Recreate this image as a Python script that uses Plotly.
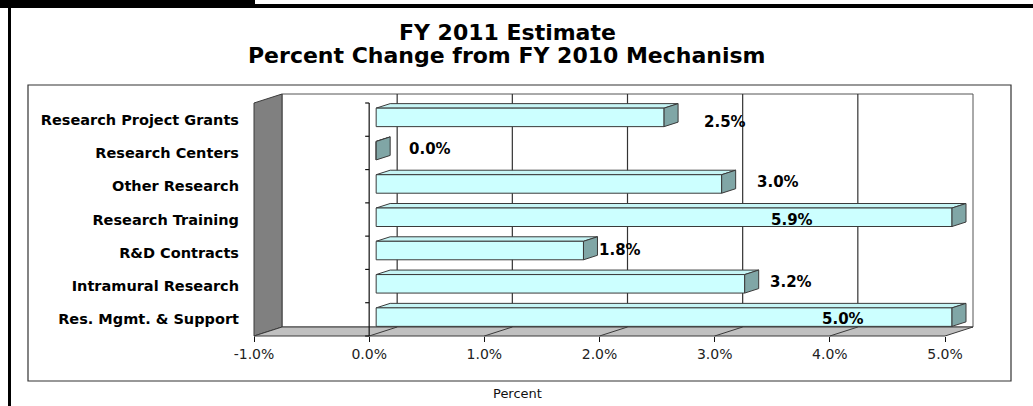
import plotly.graph_objects as go

# ---------------- data ----------------
categories = ["Research Project Grants", "Research Centers", "Other Research",
              "Research Training", "R&D Contracts", "Intramural Research",
              "Res. Mgmt. & Support"]
pct_change = [2.5, 0.0, 3.0, 5.9, 1.8, 3.2, 5.0]
x_tick_values = [-1, 0, 1, 2, 3, 4, 5]
x_tick_labels = ["-1.0%", "0.0%", "1.0%", "2.0%", "3.0%", "4.0%", "5.0%"]
title_lines = ["FY 2011 Estimate", "Percent Change from FY 2010 Mechanism"]
x_title = "Percent"

# ---------------- layout geometry (pixels) ----------------
W, H = 1033, 406
X_MIN, X_MAX = -1, 5
PX_LEFT, PX_RIGHT = 254, 945      # front plane of the 3-D box
PY_TOP, PY_BOT = 103, 336
n = len(categories)
S = (PX_RIGHT - PX_LEFT) / (X_MAX - X_MIN)   # px per percent
P = (PY_BOT - PY_TOP) / n                    # px per category
DX = 28 / S          # depth offset in x data units
DY = -9 / P          # depth offset in y index units (up)
BAR_H = 18.5 / P     # bar thickness in index units
D0, D1 = 0.25, 0.75  # bar depth span

FONT = "DejaVu Sans, Liberation Sans, Arial"
EDGE = "#3a3a3a"


def pt(v, i, d):
    return v + d * DX, i + d * DY


def poly(corners, fill, line=EDGE, width=1):
    xs = [c[0] for c in corners] + [corners[0][0]]
    ys = [c[1] for c in corners] + [corners[0][1]]
    return go.Scatter(x=xs, y=ys, mode="lines", fill="toself", fillcolor=fill,
                      line=dict(color=line, width=width), hoverinfo="skip",
                      showlegend=False, xaxis="x2", yaxis="y2")


def seg(p1, p2, color=EDGE, width=1):
    return go.Scatter(x=[p1[0], p2[0]], y=[p1[1], p2[1]], mode="lines",
                      line=dict(color=color, width=width), hoverinfo="skip",
                      showlegend=False, xaxis="x2", yaxis="y2")


fig = go.Figure()

# invisible trace for the labelled main axes
fig.add_trace(go.Scatter(x=[None] * n, y=categories, mode="markers",
                         showlegend=False, hoverinfo="skip"))

top, bot = -0.5, n - 0.5
# back wall
fig.add_trace(poly([pt(X_MIN, top, 1), pt(X_MAX, top, 1), pt(X_MAX, bot, 1), pt(X_MIN, bot, 1)],
                   "#ffffff", line="#555555"))
# back-wall gridlines
for v in x_tick_values[1:-1]:
    fig.add_trace(seg(pt(v, top, 1), pt(v, bot, 1), color="#333333", width=1.2))
# left wall
fig.add_trace(poly([pt(X_MIN, top, 0), pt(X_MIN, top, 1), pt(X_MIN, bot, 1), pt(X_MIN, bot, 0)],
                   "#808080"))
# floor
fig.add_trace(poly([pt(X_MIN, bot, 0), pt(X_MAX, bot, 0), pt(X_MAX, bot, 1), pt(X_MIN, bot, 1)],
                   "#c0c0c0"))
for v in x_tick_values[1:-1]:
    fig.add_trace(seg(pt(v, bot, 0), pt(v, bot, 1)))

# front value axis line (at 0) with category tick marks
fig.add_trace(seg(pt(0, top, 0), pt(0, bot, 0), color="#111111", width=1.2))
for k in range(n + 1):
    yk = top + k
    fig.add_trace(seg((0, yk), (-4 / S, yk), color="#111111", width=1.2))

# bars
for i, v in enumerate(pct_change):
    vc = min(v, X_MAX)
    y1, y2 = i - BAR_H / 2, i + BAR_H / 2
    fig.add_trace(poly([pt(0, y1, D0), pt(vc, y1, D0), pt(vc, y1, D1), pt(0, y1, D1)], "#c6f5f5"))
    fig.add_trace(poly([pt(0, y1, D0), pt(vc, y1, D0), pt(vc, y2, D0), pt(0, y2, D0)], "#ccffff"))
    fig.add_trace(poly([pt(vc, y1, D0), pt(vc, y1, D1), pt(vc, y2, D1), pt(vc, y2, D0)], "#80a6a6"))

# value labels (pixel offsets are styling only)
label_xshift = [45, 38, 40, -153, 21, 30, -102]
label_yshift = [-2, 4, 4, 0, 3, 4, 0]
label_anchor = ["left", "left", "left", "center", "left", "left", "center"]
for i, v in enumerate(pct_change):
    vx = min(v, X_MAX)
    fig.add_annotation(x=vx, y=i, xref="x2", yref="y2", text=f"<b>{v:.1f}%</b>",
                       showarrow=False, xanchor=label_anchor[i], yanchor="middle",
                       xshift=label_xshift[i], yshift=label_yshift[i],
                       font=dict(family=FONT, size=15, color="#000000"))

# titles
for k, t in enumerate(title_lines):
    fig.add_annotation(x=507 / W, y=1 - (32 + 23 * k) / H, xref="paper", yref="paper",
                       text=f"<b>{t}</b>", showarrow=False, xanchor="center", yanchor="middle",
                       font=dict(family=FONT, size=22, color="#000000"))

# value-axis title (centred on the chart box, as in the reference)
fig.add_annotation(x=517 / W, y=1 - 393 / H, xref="paper", yref="paper", text=x_title,
                   showarrow=False, xanchor="center", yanchor="middle",
                   font=dict(family=FONT, size=13, color="#111111"))

# frames
def px_rect(x0, y0, x1, y1, **kw):
    fig.add_shape(type="rect", xref="paper", yref="paper",
                  x0=x0 / W, x1=x1 / W, y0=1 - y0 / H, y1=1 - y1 / H, **kw)

px_rect(28, 85, 1011, 381, line=dict(color="#333333", width=1.2))
px_rect(0, 0, 255, 7, line=dict(width=0), fillcolor="#000000")
px_rect(0, 4, 1033, 8, line=dict(width=0), fillcolor="#000000")
px_rect(8, 5, 11, 406, line=dict(width=0), fillcolor="#000000")

fig.update_layout(
    width=W, height=H, margin=dict(l=0, r=0, t=0, b=0, autoexpand=False),
    paper_bgcolor="#ffffff", plot_bgcolor="rgba(0,0,0,0)",
    showlegend=False,
    xaxis=dict(domain=[PX_LEFT / W, PX_RIGHT / W], range=[X_MIN, X_MAX], automargin=False,
               tickvals=x_tick_values, ticktext=x_tick_labels,
               ticks="outside", ticklen=5, tickcolor="#111111", showgrid=False,
               zeroline=False, showline=False,
               tickfont=dict(family=FONT, size=14, color="#222222")),
    yaxis=dict(domain=[1 - PY_BOT / H, 1 - PY_TOP / H], type="category", automargin=False,
               categoryorder="array", categoryarray=categories,
               range=[n - 0.5, -0.5], showgrid=False, zeroline=False,
               showline=False, ticks="", ticklabelstandoff=14,
               tickfont=dict(family=FONT, size=14.5, color="#000000", weight="bold")),
    xaxis2=dict(domain=[0, 1], anchor="y2", automargin=False,
                range=[X_MIN - PX_LEFT / S, X_MIN + (W - PX_LEFT) / S],
                visible=False, fixedrange=True),
    yaxis2=dict(domain=[0, 1], anchor="x2", automargin=False,
                range=[(H - PY_TOP) / P - 0.5, -PY_TOP / P - 0.5],
                visible=False, fixedrange=True),
)

fig.write_html("out.html", config={"displayModeBar": False},
               post_script="document.body.style.margin='0';document.body.style.overflow='hidden';")
